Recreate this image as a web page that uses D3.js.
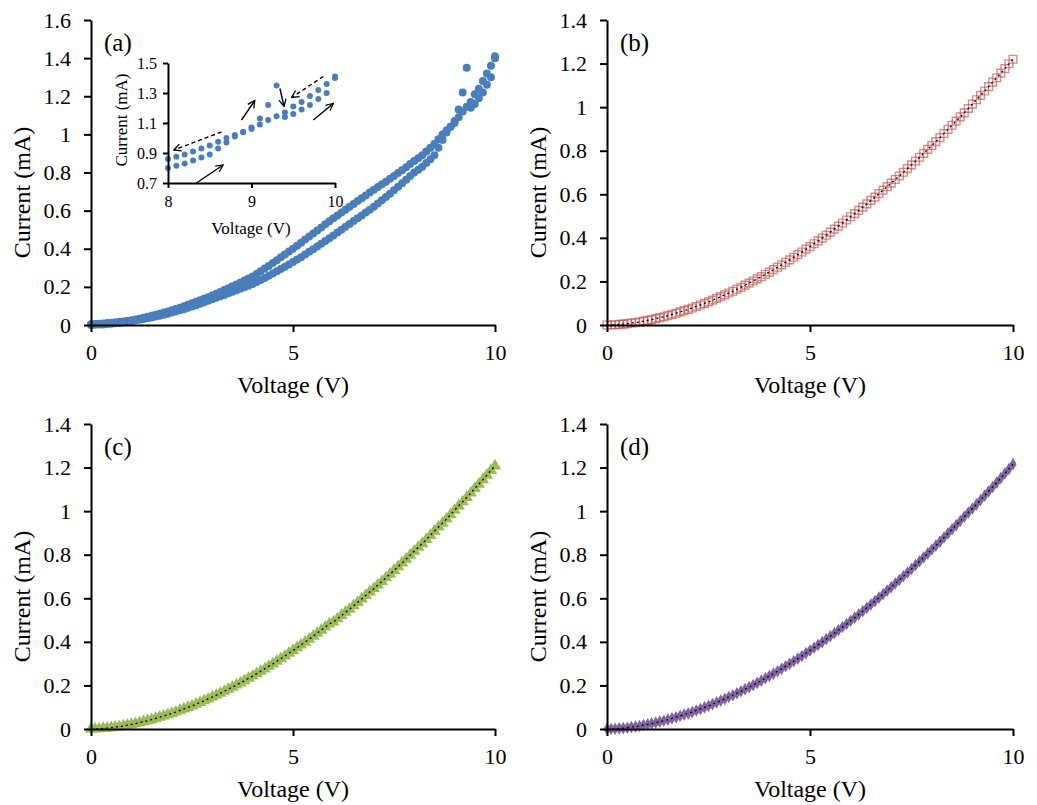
<!DOCTYPE html>
<html><head><meta charset="utf-8">
<script src="https://cdn.jsdelivr.net/npm/d3@7"></script>
<style>
body{margin:0;background:#fff}
svg{display:block;background:#fff}
text{font-family:"Liberation Serif","Times New Roman",serif;fill:#000}
</style>
</head><body>
<svg id="chart" width="1037" height="805"></svg>
<script>
// ---------------- DATA ----------------
const voltage = [0,0.1,0.2,0.3,0.4,0.5,0.6,0.7,0.8,0.9,
1,1.1,1.2,1.3,1.4,1.5,1.6,1.7,1.8,1.9,
2,2.1,2.2,2.3,2.4,2.5,2.6,2.7,2.8,2.9,
3,3.1,3.2,3.3,3.4,3.5,3.6,3.7,3.8,3.9,
4,4.1,4.2,4.3,4.4,4.5,4.6,4.7,4.8,4.9,
5,5.1,5.2,5.3,5.4,5.5,5.6,5.7,5.8,5.9,
6,6.1,6.2,6.3,6.4,6.5,6.6,6.7,6.8,6.9,
7,7.1,7.2,7.3,7.4,7.5,7.6,7.7,7.8,7.9,
8,8.1,8.2,8.3,8.4,8.5,8.6,8.7,8.8,8.9,
9,9.1,9.2,9.3,9.4,9.5,9.6,9.7,9.8,9.9,
10];

// panel (a): forward sweep (lower branch) and reverse sweep (upper branch)
const currentA_forward = [0.000,0.001,0.002,0.003,0.005,0.007,0.009,0.011,0.014,0.017,
0.020,0.024,0.027,0.031,0.035,0.040,0.044,0.049,0.054,0.059,
0.065,0.071,0.077,0.083,0.090,0.097,0.104,0.111,0.119,0.127,
0.135,0.143,0.151,0.158,0.166,0.174,0.182,0.190,0.198,0.206,
0.215,0.225,0.236,0.247,0.258,0.270,0.282,0.294,0.306,0.318,
0.330,0.343,0.356,0.370,0.384,0.398,0.412,0.426,0.441,0.455,
0.470,0.485,0.500,0.515,0.530,0.545,0.560,0.575,0.590,0.605,
0.620,0.637,0.654,0.671,0.689,0.707,0.725,0.743,0.762,0.781,
0.800,0.815,0.830,0.850,0.870,0.890,0.930,0.970,1.010,1.040,
1.060,1.130,1.220,1.350,1.140,1.160,1.190,1.220,1.260,1.300,
1.400];
const currentA_reverse = [0.004,0.005,0.006,0.008,0.010,0.012,0.014,0.017,0.019,0.022,
0.025,0.029,0.033,0.038,0.043,0.048,0.054,0.059,0.065,0.071,
0.077,0.084,0.091,0.098,0.106,0.114,0.122,0.130,0.138,0.146,
0.155,0.164,0.173,0.183,0.193,0.203,0.213,0.223,0.234,0.244,
0.255,0.268,0.282,0.296,0.310,0.325,0.340,0.355,0.370,0.385,
0.400,0.416,0.432,0.448,0.464,0.480,0.496,0.512,0.528,0.544,
0.560,0.575,0.590,0.605,0.620,0.635,0.650,0.665,0.680,0.695,
0.710,0.724,0.738,0.752,0.767,0.782,0.797,0.812,0.828,0.844,
0.860,0.875,0.890,0.910,0.930,0.950,0.975,1.000,1.020,1.040,
1.070,1.090,1.120,1.145,1.170,1.210,1.240,1.280,1.320,1.360,
1.410];

const currentB = [0.000,0.000,0.001,0.003,0.004,0.006,0.009,0.011,0.014,0.018,
0.021,0.025,0.029,0.034,0.038,0.043,0.049,0.054,0.060,0.066,
0.072,0.078,0.085,0.092,0.099,0.106,0.114,0.122,0.130,0.138,
0.147,0.155,0.164,0.173,0.183,0.192,0.202,0.212,0.222,0.233,
0.243,0.254,0.265,0.276,0.288,0.299,0.311,0.323,0.335,0.348,
0.360,0.373,0.386,0.399,0.412,0.426,0.440,0.454,0.468,0.482,
0.497,0.511,0.526,0.541,0.556,0.572,0.587,0.603,0.619,0.635,
0.651,0.668,0.684,0.701,0.718,0.735,0.753,0.770,0.788,0.806,
0.824,0.842,0.860,0.879,0.898,0.917,0.936,0.955,0.974,0.994,
1.014,1.034,1.054,1.074,1.094,1.115,1.135,1.156,1.177,1.199,
1.220];

const currentC = [0.000,0.000,0.001,0.003,0.004,0.006,0.009,0.011,0.014,0.018,
0.021,0.025,0.029,0.034,0.038,0.043,0.049,0.054,0.060,0.066,
0.072,0.078,0.085,0.092,0.099,0.106,0.114,0.122,0.130,0.138,
0.147,0.155,0.164,0.173,0.183,0.192,0.202,0.212,0.222,0.233,
0.243,0.254,0.265,0.276,0.288,0.299,0.311,0.323,0.335,0.348,
0.360,0.373,0.386,0.399,0.412,0.426,0.440,0.454,0.468,0.482,
0.492,0.506,0.521,0.536,0.550,0.566,0.581,0.597,0.613,0.629,
0.644,0.661,0.677,0.694,0.711,0.728,0.745,0.762,0.780,0.798,
0.816,0.834,0.851,0.870,0.889,0.908,0.927,0.945,0.964,0.984,
1.004,1.024,1.043,1.063,1.083,1.104,1.124,1.144,1.165,1.187,
1.208];

const currentD = [0.000,0.000,0.001,0.003,0.004,0.006,0.009,0.011,0.014,0.018,
0.021,0.025,0.029,0.034,0.038,0.043,0.049,0.054,0.060,0.066,
0.072,0.078,0.085,0.092,0.099,0.106,0.114,0.122,0.130,0.138,
0.147,0.155,0.164,0.173,0.183,0.192,0.202,0.212,0.222,0.233,
0.243,0.254,0.265,0.276,0.288,0.299,0.311,0.323,0.335,0.348,
0.360,0.373,0.386,0.399,0.412,0.426,0.440,0.454,0.468,0.482,
0.497,0.511,0.526,0.541,0.556,0.572,0.587,0.603,0.619,0.635,
0.651,0.668,0.684,0.701,0.718,0.735,0.753,0.770,0.788,0.806,
0.824,0.842,0.860,0.879,0.898,0.917,0.936,0.955,0.974,0.994,
1.012,1.031,1.051,1.071,1.091,1.111,1.131,1.152,1.173,1.194,
1.215];

const xTicks = [0,5,10];
const yTicksA = [0,0.2,0.4,0.6,0.8,1,1.2,1.4,1.6];
const yTicksBCD = [0,0.2,0.4,0.6,0.8,1,1.2,1.4];
const insetXTicks = [8,9,10];
const insetYTicks = [0.7,0.9,1.1,1.3,1.5];
const panelLabels = ["(a)","(b)","(c)","(d)"];
const xTitle = "Voltage (V)";
const yTitle = "Current (mA)";
// inset arrows [V1, I1, V2, I2] in inset data units
const solidArrows = [[8.34,0.70,8.66,0.82],[8.88,1.12,9.04,1.25],[9.34,1.33,9.39,1.21],[9.74,1.12,9.98,1.23]];
const dashedArrows = [[8.64,1.04,8.07,0.92],[9.86,1.41,9.48,1.27]];

// ---------------- DRAW ----------------
const svg = d3.select("#chart");
const fmt = d => String(d);

function drawAxes(g, x, y, xt, yt, o) {
  const ya = g.append("g").attr("transform", `translate(${x.range()[0]},0)`)
    .call(d3.axisLeft(y).tickValues(yt).tickFormat(fmt).tickSizeInner(o.tick).tickSizeOuter(0).tickPadding(o.pad));
  const xa = g.append("g").attr("transform", `translate(0,${y.range()[0]})`)
    .call(d3.axisBottom(x).tickValues(xt).tickFormat(fmt).tickSizeInner(o.tick).tickSizeOuter(0).tickPadding(o.padX));
  [ya, xa].forEach(a => {
    a.select(".domain").attr("stroke", "#000").attr("stroke-width", o.sw);
    a.selectAll(".tick line").attr("stroke", "#000").attr("stroke-width", o.sw);
    a.selectAll(".tick text").style("font-family", '"Liberation Serif",serif').style("font-size", o.fs + "px").attr("fill", "#000");
  });
}

const panels = [
  {x0:91, x1:495, yb:325, yt:20, ymax:1.6, yticks:yTicksA},
  {x0:607, x1:1013, yb:325, yt:20, ymax:1.4, yticks:yTicksBCD},
  {x0:91, x1:495, yb:729, yt:424, ymax:1.4, yticks:yTicksBCD},
  {x0:607, x1:1013, yb:729, yt:424, ymax:1.4, yticks:yTicksBCD}
];

panels.forEach((p, i) => {
  const g = svg.append("g");
  p.x = d3.scaleLinear().domain([0, 10]).range([p.x0, p.x1]);
  p.y = d3.scaleLinear().domain([0, p.ymax]).range([p.yb, p.yt]);
  p.g = g;
  g.append("text").attr("x", (p.x0 + p.x1) / 2).attr("y", p.yb + 68)
    .attr("text-anchor", "middle").style("font-size", "24px").text(xTitle);
  g.append("text").attr("transform", `translate(${p.x0 - 61},${(p.yb + p.yt) / 2 + 20}) rotate(-90)`)
    .attr("text-anchor", "middle").style("font-size", "24px").text(yTitle);
  g.append("text").attr("x", p.x0 + 13).attr("y", p.yt + 31).style("font-size", "25px").text(panelLabels[i]);
});

function pts(vs, cs) { return vs.map((v, k) => [v, cs[k]]); }

// panel a
{
  const p = panels[0];
  const data = pts(voltage, currentA_forward).concat(pts(voltage, currentA_reverse));
  p.g.append("g").selectAll("circle").data(data).join("circle")
    .attr("cx", d => p.x(d[0])).attr("cy", d => p.y(d[1])).attr("r", 4)
    .attr("fill", "#4A7EBB");
  drawAxes(p.g, p.x, p.y, xTicks, p.yticks, {tick:7, pad:13, padX:12, sw:2, fs:22});
}

// panels b, c, d
const series = [
  {p: panels[1], c: currentB, sym: d3.symbolSquare, size: 60, fill: "none", stroke: "#C0504D", so: 0.65},
  {p: panels[2], c: currentC, sym: d3.symbolTriangle, size: 66, fill: "#9BBB59", stroke: "none", so: 1},
  {p: panels[3], c: currentD, sym: d3.symbolDiamond, size: 46, fill: "#8064A2", stroke: "none", so: 1}
];
series.forEach(s => {
  const p = s.p;
  const data = pts(voltage, s.c);
  p.g.append("g").selectAll("path").data(data).join("path")
    .attr("transform", d => `translate(${p.x(d[0])},${p.y(d[1])})`)
    .attr("d", d3.symbol().type(s.sym).size(s.size))
    .attr("fill", s.fill).attr("stroke", s.stroke).attr("stroke-width", 1.4).attr("stroke-opacity", s.so);
  const line = d3.line().x(d => p.x(d[0])).y(d => p.y(d[1])).curve(d3.curveMonotoneX);
  p.g.append("path").datum(data).attr("d", line).attr("fill", "none")
    .attr("stroke", "#000").attr("stroke-width", 1.3).attr("stroke-dasharray", "2,3");
  drawAxes(p.g, p.x, p.y, xTicks, p.yticks, {tick:7, pad:13, padX:12, sw:2, fs:22});
});

// inset in panel a
{
  const ix = d3.scaleLinear().domain([8, 10]).range([168, 335]);
  const iy = d3.scaleLinear().domain([0.7, 1.5]).range([183, 63]);
  const g = svg.append("g");
  const data = pts(voltage, currentA_forward).concat(pts(voltage, currentA_reverse)).filter(d => d[0] >= 8);
  g.append("g").selectAll("circle").data(data).join("circle")
    .attr("cx", d => ix(d[0])).attr("cy", d => iy(d[1])).attr("r", 3).attr("fill", "#4A7EBB");
  drawAxes(g, ix, iy, insetXTicks, insetYTicks, {tick:5, pad:6, padX:8, sw:2, fs:16});
  g.append("text").attr("x", 251).attr("y", 234).attr("text-anchor", "middle").style("font-size", "17px").text(xTitle);
  g.append("text").attr("transform", "translate(127,120) rotate(-90)").attr("text-anchor", "middle").style("font-size", "17px").text(yTitle);

  const defs = svg.append("defs");
  defs.append("marker").attr("id", "ah").attr("viewBox", "0 0 10 10").attr("refX", 9).attr("refY", 5)
    .attr("markerWidth", 9).attr("markerHeight", 9).attr("markerUnits", "userSpaceOnUse").attr("orient", "auto")
    .append("path").attr("d", "M1,1 L9,5 L1,9").attr("fill", "none").attr("stroke", "#000").attr("stroke-width", 1.4);
  const drawArrows = (arr, dash) => g.append("g").selectAll("line").data(arr).join("line")
    .attr("x1", d => ix(d[0])).attr("y1", d => iy(d[1])).attr("x2", d => ix(d[2])).attr("y2", d => iy(d[3]))
    .attr("stroke", "#000").attr("stroke-width", 1.4).attr("stroke-dasharray", dash).attr("marker-end", "url(#ah)");
  drawArrows(solidArrows, null);
  drawArrows(dashedArrows, "4,3");
}
</script>
</body></html>
